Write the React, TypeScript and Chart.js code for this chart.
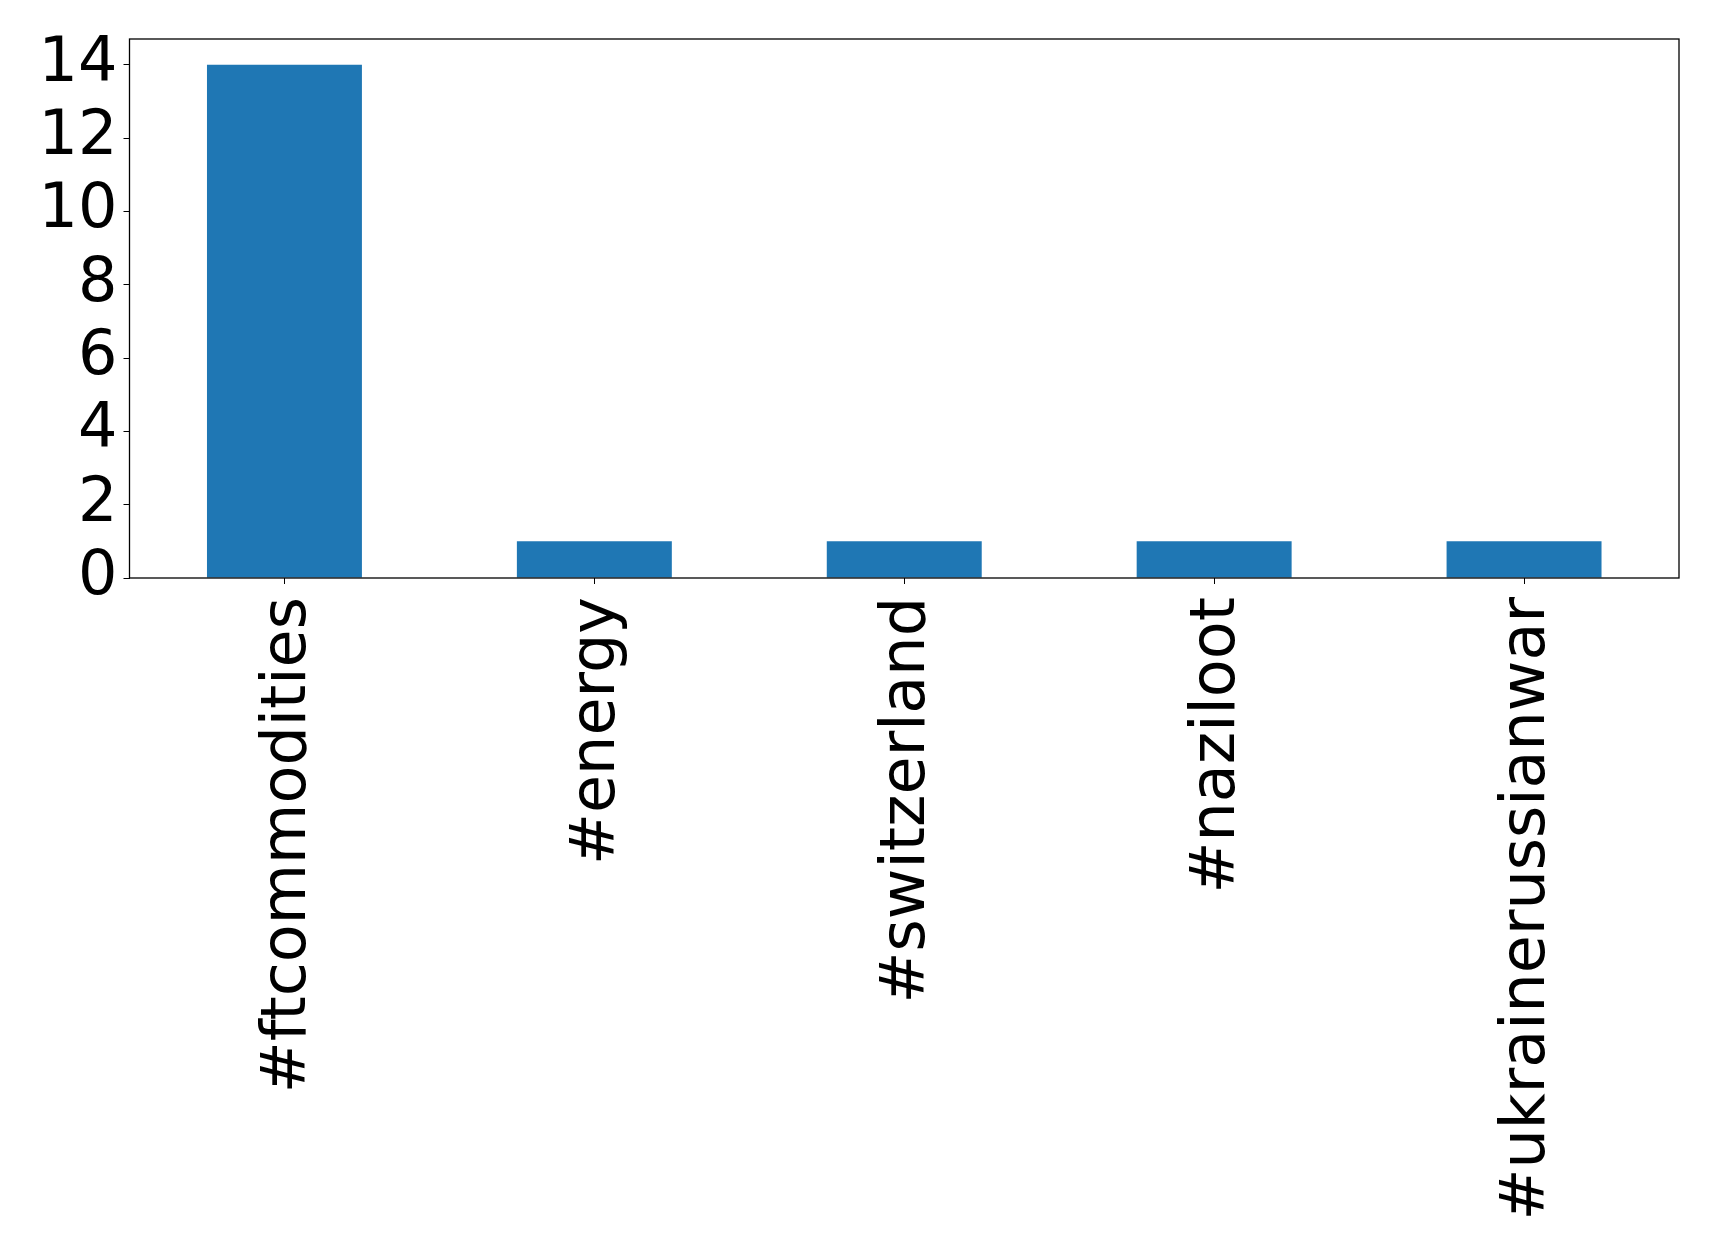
import React, { useEffect, useRef } from "react";
import { Chart, registerables } from "chart.js";

Chart.register(...registerables);

const categories = ["#ftcommodities", "#energy", "#switzerland", "#naziloot", "#ukrainerussianwar"];
const counts = [14, 1, 1, 1, 1];
const yTicks = [0, 2, 4, 6, 8, 10, 12, 14];

const framePlugin = {
  id: "frame",
  afterDraw(chart: any) {
    const { ctx, chartArea } = chart;
    ctx.save();
    ctx.strokeStyle = "#000";
    ctx.lineWidth = 1.3;
    ctx.strokeRect(chartArea.left, chartArea.top, chartArea.right - chartArea.left, chartArea.bottom - chartArea.top);
    ctx.restore();
  },
};

export default function App() {
  const ref = useRef<HTMLCanvasElement | null>(null);
  useEffect(() => {
    if (!ref.current) return;
    const font = { family: "DejaVu Sans", size: 62 };
    const chart = new Chart(ref.current, {
      type: "bar",
      data: {
        labels: categories,
        datasets: [
          {
            data: counts,
            backgroundColor: "#1f77b4",
            borderWidth: 0,
            barPercentage: 0.5,
            categoryPercentage: 1,
          },
        ],
      },
      plugins: [framePlugin],
      options: {
        animation: false,
        responsive: false,
        maintainAspectRatio: false,
        layout: { padding: { left: 0, top: 39, right: 40, bottom: 0 } },
        plugins: { legend: { display: false }, tooltip: { enabled: false } },
        scales: {
          x: {
            offset: true,
            grid: { display: true, drawOnChartArea: false, drawTicks: true, tickLength: 6, color: "#000", offset: false },
            border: { display: false },
            ticks: {
              autoSkip: false,
              maxRotation: 90,
              minRotation: 90,
              padding: 13,
              labelOffset: 4,
              color: "#000",
              font,
            },
            afterFit(scale: any) {
              scale.height = 678;
              scale.paddingLeft = 0;
              scale.paddingRight = 0;
            },
          },
          y: {
            min: 0,
            max: 14.7,
            grid: { display: true, drawOnChartArea: false, drawTicks: true, tickLength: 6, color: "#000" },
            border: { display: false },
            afterBuildTicks(scale: any) {
              scale.ticks = yTicks.map((v) => ({ value: v }));
            },
            ticks: {
              autoSkip: false,
              padding: 6,
              color: "#000",
              font,
            },
            afterFit(scale: any) {
              scale.width = 129.5;
              scale.paddingTop = 0;
              scale.paddingBottom = 0;
            },
          },
        },
      },
    });
    return () => chart.destroy();
  }, []);
  return (
    <div style={{ position: "absolute", left: 0, top: 0, width: 1719, height: 1256, background: "#fff" }}>
      <canvas ref={ref} width={1719} height={1256} style={{ display: "block" }} />
    </div>
  );
}
